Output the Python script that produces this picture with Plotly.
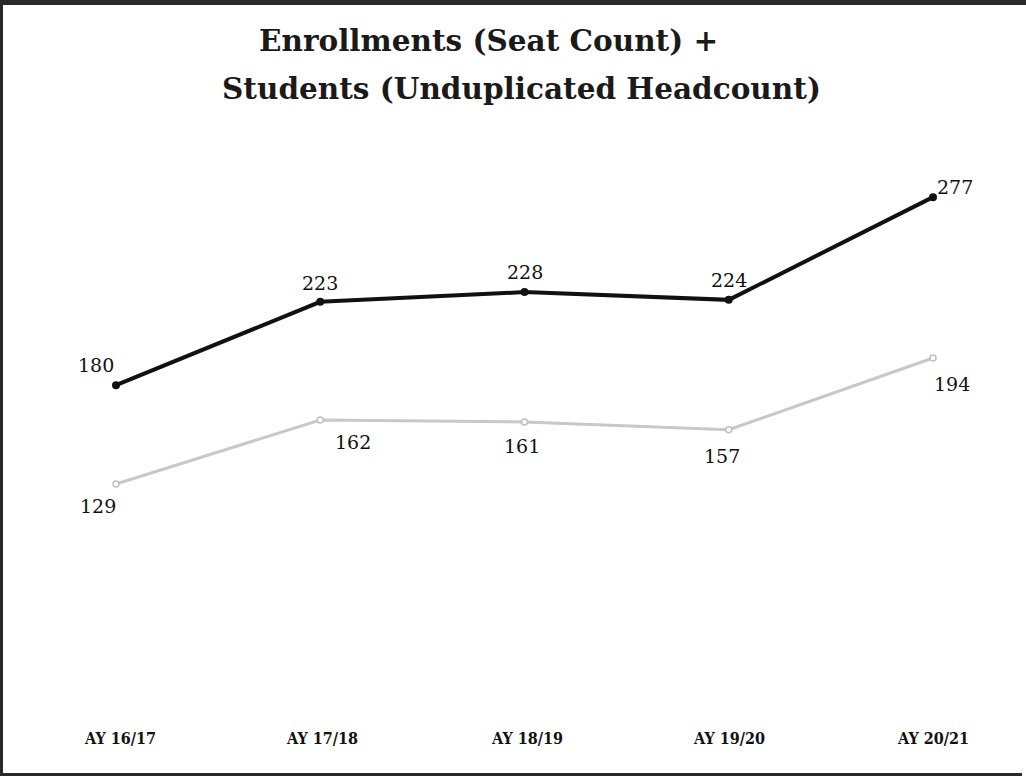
import plotly.graph_objects as go

# Academic years on the horizontal axis
years = ["AY 16/17", "AY 17/18", "AY 18/19", "AY 19/20", "AY 20/21"]
enrollments = [180, 223, 228, 224, 277]   # seat count
students = [129, 162, 161, 157, 194]      # unduplicated headcount

# label offsets (px) for the value annotations
enr_shift = [(-20, 20), (0, 19), (0, 20), (0, 20), (22, 10)]
stu_shift = [(-18, -22), (33, -22), (-3, -24), (-7, -26), (19, -26)]
year_shift = [4, 2, 2, 0, 0]

# the plot area fills the whole page; paper units map straight to pixels
W, H = 1026, 776


def px(xp):
    return xp / W


def py(yp):
    return (H - yp) / H


xs = list(range(len(years)))

fig = go.Figure()
fig.add_trace(go.Scatter(
    x=xs, y=students, mode="lines+markers",
    line=dict(color="#c8c8c8", width=3),
    marker=dict(size=6, color="white", line=dict(color="#c0c0c0", width=1.5)),
    hoverinfo="skip", showlegend=False,
))
fig.add_trace(go.Scatter(
    x=xs, y=enrollments, mode="lines+markers",
    line=dict(color="#111111", width=4),
    marker=dict(size=8, color="#111111"),
    hoverinfo="skip", showlegend=False,
))

label_font = dict(family="DejaVu Serif", size=19, color="#111111")
for x, v, (dx, dy) in zip(xs, enrollments, enr_shift):
    fig.add_annotation(x=x, y=v, text=str(v), showarrow=False,
                       xshift=dx, yshift=dy, font=label_font)
for x, v, (dx, dy) in zip(xs, students, stu_shift):
    fig.add_annotation(x=x, y=v, text=str(v), showarrow=False,
                       xshift=dx, yshift=dy, font=label_font)

# category labels along the bottom
year_font = dict(family="DejaVu Serif Condensed", size=16, color="#111111")
for x, name, dx in zip(xs, years, year_shift):
    fig.add_annotation(x=x, yref="paper", y=py(738), text="<b>%s</b>" % name,
                       showarrow=False, xshift=dx, yanchor="middle", font=year_font)

# two-line title
title_font = dict(family="DejaVu Serif", size=29.5, color="#1a1a1a")
fig.add_annotation(xref="paper", yref="paper", x=px(488), y=py(40),
                   text="<b>Enrollments (Seat Count) +</b>", showarrow=False,
                   font=title_font, yanchor="middle")
fig.add_annotation(xref="paper", yref="paper", x=px(521), y=py(88),
                   text="<b>Students (Unduplicated Headcount)</b>", showarrow=False,
                   font=title_font, yanchor="middle")

# heavy top edge, thinner left and bottom edges of the page frame
edge = dict(width=0)
fig.add_shape(type="rect", xref="paper", yref="paper",
              x0=0, x1=1, y0=py(5), y1=1,
              fillcolor="#2a2a2a", line=edge, layer="above")
fig.add_shape(type="rect", xref="paper", yref="paper",
              x0=0, x1=px(3), y0=0, y1=1,
              fillcolor="#2a2a2a", line=edge, layer="above")
fig.add_shape(type="rect", xref="paper", yref="paper",
              x0=0, x1=px(W - 4), y0=0, y1=py(H - 3),
              fillcolor="#2a2a2a", line=edge, layer="above")

# 204.25 px per category, first point at x=116
scale = (933 - 116) / 4
x0 = -116 / scale
x1 = x0 + W / scale
# 1.938 px per unit, y=0 at pixel 734
yscale = (385 - 197) / (277 - 180)
ybot = -(H - 734) / yscale
ytop = ybot + H / yscale

fig.update_layout(
    width=W, height=H,
    margin=dict(l=0, r=0, t=0, b=0, pad=0),
    paper_bgcolor="white", plot_bgcolor="white",
    xaxis=dict(range=[x0, x1], visible=False, showgrid=False, zeroline=False),
    yaxis=dict(range=[ybot, ytop], visible=False, showgrid=False, zeroline=False),
)

fig.write_html("out.html")
